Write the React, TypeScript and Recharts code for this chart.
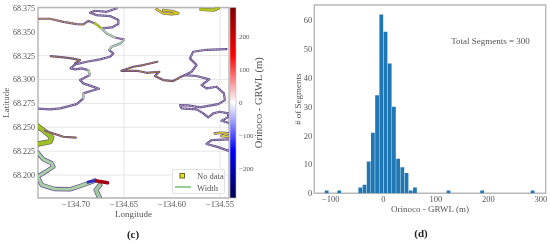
import React from "react";
import {
  ScatterChart, Scatter, BarChart, Bar, ComposedChart, Line, XAxis, YAxis, CartesianGrid,
  ReferenceArea, ReferenceDot, Legend,
} from "recharts";

type P = { lon: number; lat: number };
const pts = (a: number[][]): P[] => a.map(([lon, lat]) => ({ lon, lat }));

// ---- map panel (c): river centre lines, lon / lat
const riverA = pts([[-134.7399,68.3637],[-134.7271,68.3637],[-134.7132,68.3605],[-134.6993,68.3581],[-134.6924,68.3577],[-134.6872,68.3616],[-134.6802,68.3588],[-134.6733,68.3536],[-134.6681,68.3483],[-134.6594,68.3441],[-134.65,68.342],[-134.6535,68.3379],[-134.6629,68.3344],[-134.6656,68.3309],[-134.6611,68.3274],[-134.6646,68.3239],[-134.675,68.3211],[-134.6889,68.3187],[-134.701,68.3159],[-134.7056,68.3117],[-134.701,68.3106],[-134.6941,68.3117],[-134.6872,68.3099],[-134.6854,68.3047],[-134.6958,68.2995],[-134.6924,68.296],[-134.6802,68.2918],[-134.6761,68.2904],[-134.6837,68.2883],[-134.6924,68.2855],[-134.6924,68.2803],[-134.6993,68.2743],[-134.7167,68.2698],[-134.7271,68.2688],[-134.7399,68.2695]]);
const riverAWest = pts([[-134.7399,68.3637],[-134.7271,68.3637],[-134.7132,68.3605],[-134.6993,68.3581],[-134.6924,68.3577],[-134.6872,68.3616]]);
const riverAGreen = pts([[-134.6802,68.3588],[-134.6733,68.3536]]);
const riverAPale = pts([[-134.6733,68.3536],[-134.6681,68.3483],[-134.6594,68.3441]]);
const riverAPale2 = pts([[-134.65,68.342],[-134.6535,68.3379],[-134.6629,68.3344],[-134.6656,68.3309]]);
const riverAPale3 = pts([[-134.6872,68.3099],[-134.6854,68.3047]]);
const riverAPale4 = pts([[-134.6924,68.2855],[-134.6924,68.2803]]);
const riverB = pts([[-134.7264,68.3246],[-134.7132,68.3232],[-134.7045,68.3222],[-134.6958,68.3204],[-134.701,68.3169]]);
const riverC = pts([[-134.6577,68.3745],[-134.6681,68.371],[-134.6802,68.3721],[-134.6854,68.37],[-134.6785,68.3675],[-134.6646,68.3665],[-134.6559,68.3623],[-134.6559,68.3581],[-134.6629,68.3546],[-134.6722,68.3536]]);
const riverD = pts([[-134.6525,68.3092],[-134.6368,68.3092],[-134.6264,68.3071],[-134.6132,68.3082],[-134.6178,68.3037],[-134.6091,68.2995],[-134.5987,68.2984],[-134.5917,68.3023],[-134.5865,68.3047]]);
const riverD2 = pts([[-134.5865,68.3047],[-134.5744,68.3037],[-134.5612,68.3002],[-134.5692,68.2942],[-134.564,68.2907],[-134.5536,68.2925],[-134.5459,68.2855],[-134.5449,68.2785],[-134.5518,68.2743],[-134.5709,68.2708],[-134.5831,68.2729],[-134.5917,68.2733],[-134.59,68.2698],[-134.5744,68.2688],[-134.5674,68.2646],[-134.5622,68.2604],[-134.557,68.2646],[-134.5501,68.2663],[-134.5414,68.2646],[-134.5418,68.2604],[-134.5484,68.2569],[-134.5414,68.2548]]);
const riverDUp = pts([[-134.5865,68.3047],[-134.5796,68.3082],[-134.5744,68.3152],[-134.5813,68.3222],[-134.5779,68.3291],[-134.564,68.3312],[-134.5432,68.3319]]);
const riverDBranch = pts([[-134.6525,68.3092],[-134.6403,68.3134],[-134.6299,68.3152],[-134.6153,68.3187]]);
const riverY = pts([[-134.5553,68.2436],[-134.5484,68.2443],[-134.5414,68.2436],[-134.5484,68.2408],[-134.5414,68.2401]]);
const riverE = pts([[-134.5414,68.2255],[-134.5536,68.2297],[-134.564,68.2325],[-134.5588,68.2366],[-134.5414,68.2373]]);
const riverF = pts([[-134.7399,68.2513],[-134.7323,68.2454],[-134.7253,68.2394],[-134.7271,68.2349],[-134.7399,68.2325]]);
const riverFThin = pts([[-134.7323,68.2464],[-134.7132,68.2401],[-134.7003,68.2391]]);
const riverG = pts([[-134.7399,68.2234],[-134.734,68.2164],[-134.7253,68.2122],[-134.7236,68.2087],[-134.7288,68.2052],[-134.7399,68.1983],[-134.7357,68.1895],[-134.7219,68.1853],[-134.7062,68.185],[-134.6924,68.1895],[-134.6802,68.1941]]);
const riverGLow = pts([[-134.675,68.1895],[-134.6792,68.1843],[-134.6757,68.1766]]);
const blobT1 = pts([[-134.616,68.3735],[-134.6091,68.3693],[-134.6004,68.3686],[-134.5935,68.3693],[-134.6004,68.3717],[-134.6091,68.3728]]);
const blobT2 = pts([[-134.5699,68.3735],[-134.557,68.3728],[-134.5518,68.3749]]);
const headBlue = pts([[-134.6875,68.1925],[-134.6802,68.1941]]);
const headRed = pts([[-134.6785,68.1938],[-134.6733,68.193],[-134.6672,68.1918]]);

const lonTicks = [-134.7, -134.65, -134.6, -134.55];
const latTicks = [68.2, 68.225, 68.25, 68.275, 68.3, 68.325, 68.35, 68.375];
const legendLabels = ["No data", "Width"];

// ---- colour bar
const cbTicks = [-200, -100, 0, 100, 200];
const cbRange = [{ x: 0, v: -289 }, { x: 1, v: 288 }];
const cbStops = [
  ["0%", "#7f0000"], ["25%", "#ff0000"], ["50%", "#ffffff"], ["75%", "#0000ff"], ["100%", "#00004c"],
];

// ---- histogram panel (d)
const binCenters = [-107.5,-83.5,-43.5,-35.5,-27.5,-19.5,-11.5,-3.5,4.5,12.5,20.5,28.5,36.5,44.5,52.5,60.5,124.5,188.5,284.5];
const binCounts = [1,1,2,3,11,21,34,62,56,45,30,12,9,7,1,2,1,1,1];
const histTicksX = [-100, 0, 100, 200, 300];
const histTicksY = [0, 10, 20, 30, 40, 50, 60];
const histData = binCenters.map((x, i) => ({ x, n: binCounts[i] }));

const FONT = "'Liberation Serif', serif";
const TXT = "#555";
const FRAME = "#b8b8b8";
const minus = (v: number, d: number) => v.toFixed(d).replace("-", "\u2212");
const Empty = () => <g />;

const tickStyle = { fontSize: 8.5, fill: TXT, fontFamily: FONT };

function layer(key: string, data: P[], stroke: string, width: number, dash?: string) {
  return (
    <Scatter
      key={key}
      data={data}
      isAnimationActive={false}
      shape={Empty}
      line={{ stroke, strokeWidth: width, strokeDasharray: dash, strokeLinejoin: "round", strokeLinecap: "round" } as any}
    />
  );
}

const OUT = "#63498a";
const LIL = "#b7adc6";
const ORG = "#b89030";
const thin = (key: string, data: P[], inner: string) => [
  layer(key + "o", data, OUT, 2.2),
  layer(key + "i", data, inner, 0.9, "1.5 1.5"),
];

function LegendBox() {
  return (
    <div style={{ width: 53, height: 25, boxSizing: "border-box", background: "rgba(255,255,255,.9)", border: "1px solid #e2e2e2", borderRadius: 2, fontFamily: FONT, fontSize: 8.5, color: TXT, position: "relative" }}>
      <svg width={18} height={24} style={{ position: "absolute", left: 1, top: 0 }}>
        <rect x={6} y={3.5} width={4.5} height={4.5} fill="#e8e020" stroke="#6b6320" strokeWidth={1} />
        <line x1={1} x2={17} y1={17} y2={17} stroke="#4fb04f" strokeWidth={1.2} />
      </svg>
      <span style={{ position: "absolute", left: 24, top: 1, lineHeight: "10px", whiteSpace: "nowrap" }}>{legendLabels[0]}</span>
      <span style={{ position: "absolute", left: 24, top: 13, lineHeight: "10px", whiteSpace: "nowrap" }}>{legendLabels[1]}</span>
    </div>
  );
}

const LON_DOMAIN: [number, number] = [-134.7396, -134.5406];
const LAT_DOMAIN: [number, number] = [68.1759, 68.3755];

export default function App() {
  return (
    <div style={{ position: "absolute", left: 0, top: 0, width: 550, height: 244, background: "#fff", overflow: "hidden", filter: "blur(0.35px)" }}>
      <div style={{ position: "absolute", left: 0, top: 0 }}>
        <ScatterChart width={275} height={244} margin={{ left: 4, right: 46, top: 7.5, bottom: 26 }}>
          <CartesianGrid stroke="#e6e6e6" strokeWidth={1} />
          <XAxis dataKey="lon" type="number" domain={LON_DOMAIN} allowDataOverflow ticks={lonTicks} height={20}
            tickFormatter={(v: number) => minus(v, 2)} tick={tickStyle} axisLine={false} tickLine={false} tickMargin={-3}
            label={{ value: "Longitude", position: "insideBottom", offset: 1, style: { fontSize: 9, fill: TXT, fontFamily: FONT } }} />
          <YAxis dataKey="lat" type="number" domain={LAT_DOMAIN} allowDataOverflow ticks={latTicks} width={34}
            tickFormatter={(v: number) => v.toFixed(3)} tick={{ ...tickStyle, fontSize: 8 }} axisLine={false} tickLine={false} tickMargin={-3}
            label={{ value: "Latitude", angle: -90, position: "insideLeft", offset: 0, dx: 2, style: { fontSize: 9, fill: TXT, fontFamily: FONT, textAnchor: "middle" } }} />
          <ReferenceArea x1={LON_DOMAIN[0]} x2={LON_DOMAIN[1]} y1={LAT_DOMAIN[0]} y2={LAT_DOMAIN[1]} fill="none" stroke={FRAME} strokeWidth={1.4} />
          {thin("a", riverA, LIL)}
          {layer("aw", riverAWest, ORG, 0.9, "1.5 1.5")}
          {thin("b", riverB, ORG)}
          {thin("c", riverC, LIL)}
          {thin("d", riverD, ORG)}
          {thin("d2", riverD2, LIL)}
          {thin("du", riverDUp, LIL)}
          {thin("db", riverDBranch, ORG)}
          {thin("e", riverE, LIL)}
          {layer("yo", riverY, OUT, 2.6)}
          {layer("yi", riverY, "#d8cf30", 1.4)}
          {layer("t1o", blobT1, "#7a6a50", 2.8)}
          {layer("t1i", blobT1, "#e0d020", 1.5)}
          {layer("t2o", blobT2, "#7a7a30", 3.4)}
          {layer("t2i", blobT2, "#b8c820", 2.2)}
          {layer("ag", riverAGreen, "#a8c020", 2.4)}
          {layer("ap", riverAPale, "#a9cfa6", 1.8)}
          {layer("ap2", riverAPale2, "#a9cfa6", 1.6)}
          {layer("ap3", riverAPale3, "#a9cfa6", 1.8)}
          {layer("ap4", riverAPale4, "#a9cfa6", 1.8)}
          {layer("fo", riverF, "#5f6a50", 5.4)}
          {layer("fi", riverF, "#a0c028", 4)}
          {thin("ft", riverFThin, ORG)}
          {layer("go", riverG, OUT, 4.4)}
          {layer("gi", riverG, "#a9cfa6", 3)}
          {layer("glo", riverGLow, OUT, 5)}
          {layer("gli", riverGLow, "#9cc9a0", 3.6)}
          {layer("hb", headBlue, "#3030c0", 3)}
          {layer("hr", headRed, "#a00010", 3.6)}
          <Legend layout="vertical" align="center" verticalAlign="middle" content={<LegendBox />}
            wrapperStyle={{ left: 172, top: 169, width: 53, height: 25, right: "auto", bottom: "auto", margin: 0 }} />
        </ScatterChart>
      </div>

      <div style={{ position: "absolute", left: 200, top: 0 }}>
        <ComposedChart width={80} height={244} data={cbRange} margin={{ left: 30, right: 0, top: 7.5, bottom: 46 }}>
          <defs>
            <linearGradient id="cb" x1="0" y1="0" x2="0" y2="1">
              {cbStops.map(([o, c]) => <stop key={o} offset={o} stopColor={c} />)}
            </linearGradient>
          </defs>
          <XAxis dataKey="x" type="number" domain={[0, 1]} hide />
          <YAxis orientation="right" type="number" domain={[-289, 288]} ticks={cbTicks} width={44}
            tickFormatter={(v: number) => minus(v, 0)} tick={{ ...tickStyle, fontSize: 7 }} axisLine={false} tickLine={false} tickMargin={-3}
            label={{ value: "Orinoco - GRWL (m)", angle: -90, position: "insideRight", offset: 22, style: { fontSize: 10.5, fill: TXT, fontFamily: FONT, textAnchor: "middle" } }} />
          <ReferenceArea x1={0} x2={1} y1={-289} y2={288} fill="url(#cb)" fillOpacity={1} stroke={FRAME} strokeWidth={0.6} />
          <Line dataKey="v" stroke="none" dot={false} isAnimationActive={false} legendType="none" />
        </ComposedChart>
      </div>

      <div style={{ position: "absolute", left: 275, top: 0 }}>
        <BarChart width={275} height={244} data={histData} margin={{ left: 9.3, right: 4.3, top: 5, bottom: 30.7 }}>
          <XAxis dataKey="x" type="number" domain={[-131.4, 309]} allowDataOverflow ticks={histTicksX} height={20}
            tickFormatter={(v: number) => minus(v, 0)} tick={tickStyle} axisLine={false} tickLine={false} tickMargin={-3}
            label={{ value: "Orinoco - GRWL (m)", position: "insideBottom", offset: 1, style: { fontSize: 9, fill: TXT, fontFamily: FONT } }} />
          <YAxis type="number" domain={[0, 65.3]} allowDataOverflow ticks={histTicksY} width={30}
            tick={tickStyle} axisLine={false} tickLine={false} tickMargin={-4}
            label={{ value: "# of Segments", angle: -90, position: "insideLeft", offset: 0, dx: 14, style: { fontSize: 9, fill: TXT, fontFamily: FONT, textAnchor: "middle" } }} />
          <ReferenceArea x1={-131.4} x2={309} y1={0} y2={65.3} fill="none" stroke={FRAME} strokeWidth={1.4} />
          <Bar dataKey="n" fill="#1f77b4" barSize={4.7} isAnimationActive={false} />
          <ReferenceDot x={204} y={53} r={0} fill="none" stroke="none"
            label={{ value: "Total Segments = 300", position: "center", style: { fontSize: 9, fill: TXT, fontFamily: FONT } }} />
        </BarChart>
      </div>

      <div style={{ position: "absolute", left: 113, top: 228, width: 40, textAlign: "center", fontFamily: FONT, fontSize: 11, fontWeight: "bold", color: "#222" }}>(c)</div>
      <div style={{ position: "absolute", left: 401, top: 227, width: 40, textAlign: "center", fontFamily: FONT, fontSize: 11, fontWeight: "bold", color: "#222" }}>(d)</div>
    </div>
  );
}
